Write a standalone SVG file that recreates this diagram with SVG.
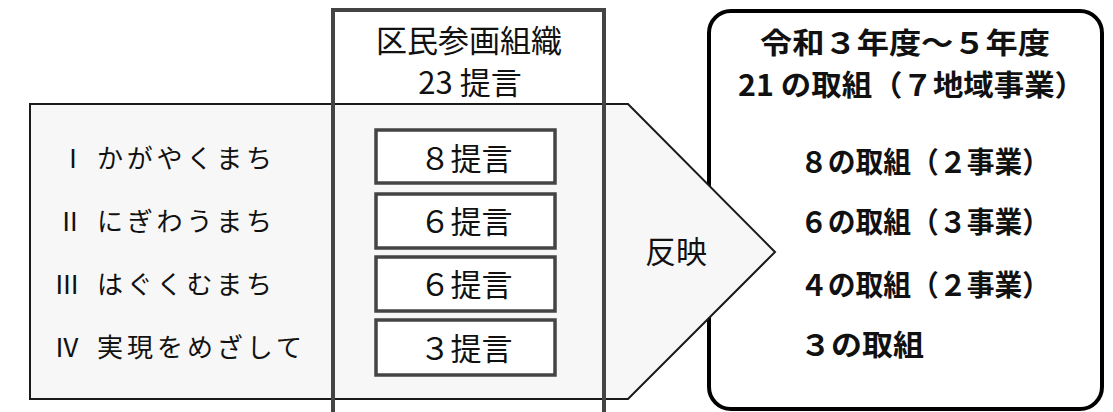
<svg xmlns="http://www.w3.org/2000/svg" width="1113" height="412" viewBox="0 0 1113 412">
<style>
.t{font-family:"Noto Sans CJK JP","Noto Sans",sans-serif;fill:#111}
.lbl{font-size:26px}
.mid{font-size:31px;text-anchor:middle}
.box{fill:#fff;stroke:#444;stroke-width:3.5}
.res{font-size:29px;font-weight:bold}
</style>
<rect fill="#fff" x="0" y="0" width="1113" height="412"/>
<g id="result">
<rect x="709" y="11" width="393" height="398" rx="22" ry="22" fill="#fff" stroke="#000" stroke-width="4"/>
<text class="t res" x="760" y="54" textLength="290" lengthAdjust="spacingAndGlyphs">令和３年度～５年度</text>
<text class="t res" x="738" y="96" textLength="347" lengthAdjust="spacingAndGlyphs">21 の取組（７地域事業）</text>
<text class="t res" x="800" y="173" textLength="250" lengthAdjust="spacingAndGlyphs">８の取組（２事業）</text>
<text class="t res" x="800" y="233" textLength="250" lengthAdjust="spacingAndGlyphs">６の取組（３事業）</text>
<text class="t res" x="800" y="296" textLength="250" lengthAdjust="spacingAndGlyphs">４の取組（２事業）</text>
<text class="t res" x="800" y="356" textLength="124" lengthAdjust="spacingAndGlyphs">３の取組</text>
</g>
<g id="arrow">
<polygon points="30,104 628,104 775,252 628,399 30,399" fill="#f7f7f7" stroke="#1a1a1a" stroke-width="2"/>
<text class="t mid" x="676" y="263">反映</text>
</g>
<g id="themes">
<text class="t lbl" y="168"><tspan x="60">Ⅰ</tspan><tspan x="97" textLength="175" lengthAdjust="spacing">かがやくまち</tspan></text>
<text class="t lbl" y="231"><tspan x="57">Ⅱ</tspan><tspan x="97" textLength="175" lengthAdjust="spacing">にぎわうまち</tspan></text>
<text class="t lbl" y="294"><tspan x="54">Ⅲ</tspan><tspan x="97" textLength="175" lengthAdjust="spacing">はぐくむまち</tspan></text>
<text class="t lbl" y="357"><tspan x="54">Ⅳ</tspan><tspan x="97" textLength="205" lengthAdjust="spacing">実現をめざして</tspan></text>
</g>
<g id="column">
<rect x="333" y="10" width="271" height="430" fill="none" stroke="#444" stroke-width="4"/>
<text class="t mid" x="469" y="52" font-size="32">区民参画組織</text>
<text class="t mid" x="470" y="94">23 提言</text>
</g>
<g id="p1"><rect class="box" x="376" y="130" width="179" height="53"/><text class="t mid" x="466" y="170">８提言</text></g>
<g id="p2"><rect class="box" x="376" y="194" width="179" height="54"/><text class="t mid" x="466" y="233">６提言</text></g>
<g id="p3"><rect class="box" x="376" y="257" width="179" height="54"/><text class="t mid" x="466" y="296">６提言</text></g>
<g id="p4"><rect class="box" x="376" y="320" width="179" height="55"/><text class="t mid" x="466" y="360">３提言</text></g>
<g id="connectors"/>
</svg>
